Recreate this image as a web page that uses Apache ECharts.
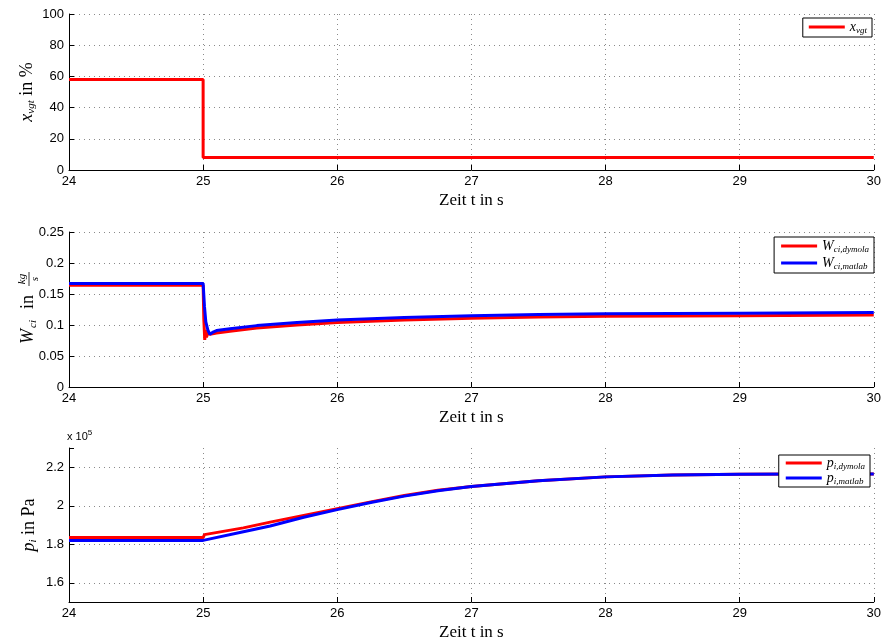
<!DOCTYPE html>
<html>
<head>
<meta charset="utf-8">
<script src="https://cdn.jsdelivr.net/npm/echarts@6/dist/echarts.min.js"></script>
<style>
  html, body { margin: 0; padding: 0; background: #fff; }
</style>
</head>
<body>
<div id="main" style="width:884px;height:642px;"></div>
<script>
// x axis ticks (time in s)
const timeTicks = [24, 25, 26, 27, 28, 29, 30];

// plot 1: x_vgt in %
const tVgt = [24, 25, 25, 30];
const xVgt = [58, 58, 8, 8];

// plot 2: W_ci in kg/s
const tWd = [24, 25.0, 25.005, 25.012, 25.018, 25.025, 25.035, 25.05, 25.1, 25.2, 25.4, 25.7, 26, 26.5, 27, 27.5, 28, 29, 30];
const wDymola = [0.164, 0.164, 0.11, 0.076, 0.092, 0.08, 0.088, 0.085, 0.087, 0.090, 0.095, 0.100, 0.104, 0.108, 0.111, 0.113, 0.114, 0.115, 0.116];
const tWm = [24, 25.0, 25.01, 25.02, 25.035, 25.05, 25.07, 25.1, 25.2, 25.4, 25.7, 26, 26.5, 27, 27.5, 28, 29, 30];
const wMatlab = [0.167, 0.167, 0.13, 0.105, 0.092, 0.085, 0.088, 0.091, 0.094, 0.099, 0.104, 0.108, 0.112, 0.115, 0.117, 0.118, 0.119, 0.120];

// plot 3: p_i in Pa
const tP = [24, 25.0, 25.01, 25.3, 25.5, 25.75, 26, 26.25, 26.5, 26.75, 27, 27.5, 28, 28.5, 29, 29.5, 30];
const pDymola = [183500, 183500, 185000, 188500, 191500, 195000, 198500, 202000, 205300, 208000, 210000, 213000, 215000, 216000, 216400, 216500, 216500];
const pMatlab = [182000, 182000, 183000, 186500, 189500, 194000, 198000, 201700, 205000, 207800, 210000, 213000, 215000, 216000, 216400, 216500, 216500];

function pairs(t, v) {
  return t.map(function (x, i) { return [x, v[i]]; });
}

var chart = echarts.init(document.getElementById("main"));

var serif = "Liberation Serif";
var sans = "Liberation Sans";
var gridLine = { show: true, showMinLine: false, lineStyle: { color: "#8a8a8a", type: [1, 4], width: 1 } };

var legendNames = {
  "x_vgt": "{m|x}{s|vgt}",
  "W_ci,dymola": "{m|W}{s|ci,dymola}",
  "W_ci,matlab": "{m|W}{s|ci,matlab}",
  "p_i,dymola": "{m|p}{s|i,dymola}",
  "p_i,matlab": "{m|p}{s|i,matlab}",
};
var legendRich = {
  m: { fontFamily: serif, fontStyle: "italic", fontSize: 14, color: "#000" },
  s: { fontFamily: serif, fontStyle: "italic", fontSize: 9, color: "#000", padding: [7, 0, 0, 0] },
};
var nameRich = {
  m: { fontFamily: serif, fontStyle: "italic", fontSize: 18, color: "#000" },
  s: { fontFamily: serif, fontStyle: "italic", fontSize: 11, color: "#000", padding: [8, 0, 0, 0] },
  r: { fontFamily: serif, fontSize: 18, color: "#000" },
};

function xAxis(gi) {
  return {
    type: "value", gridIndex: gi, min: 24, max: 30, interval: 1,
    name: "Zeit t in s", nameLocation: "middle", nameGap: 22,
    nameTextStyle: { fontFamily: serif, fontSize: 17, color: "#000" },
    axisLine: { onZero: false, lineStyle: { color: "#000", width: 1 } },
    axisTick: { inside: true, length: 5, lineStyle: { color: "#000" } },
    axisLabel: { color: "#000", fontFamily: sans, fontSize: 13, margin: 5 },
    splitLine: gridLine,
  };
}
function yBase(gi) {
  return {
    type: "value", gridIndex: gi,
    axisLine: { show: true, onZero: false, lineStyle: { color: "#000", width: 1 } },
    axisTick: { show: true, inside: true, length: 5, lineStyle: { color: "#000" } },
    axisLabel: { color: "#000", fontFamily: sans, fontSize: 13, margin: 5 },
    splitLine: gridLine,
  };
}
function legend(top, right, gap, data, pad) {
  return {
    top: top, right: right, orient: "vertical", data: data,
    icon: "rect", itemWidth: 36, itemHeight: 3, itemGap: gap, padding: pad,
    borderColor: "#000", borderWidth: 1, backgroundColor: "#fff", borderRadius: 0,
    formatter: function (n) { return legendNames[n]; },
    textStyle: { rich: legendRich },
  };
}
function line(name, gi, data, color) {
  return {
    name: name, type: "line", xAxisIndex: gi, yAxisIndex: gi, data: data,
    showSymbol: false, symbol: "none", animation: false,
    lineStyle: { color: color, width: 3 }, itemStyle: { color: color },
  };
}

var y1 = yBase(0);
y1.min = 0; y1.max = 100; y1.interval = 20;
y1.name = "{m|x}{s|vgt}{r| in %}";
y1.nameLocation = "middle"; y1.nameGap = 32; y1.nameMoveOverlap = false;
y1.nameTextStyle = { rich: nameRich };

var y2 = yBase(1);
y2.min = 0; y2.max = 0.25; y2.interval = 0.05;

var y3 = yBase(2);
y3.min = 150000; y3.max = 230000; y3.splitNumber = 4;
y3.splitLine = { show: true, showMinLine: false, showMaxLine: false, lineStyle: gridLine.lineStyle };
y3.axisLabel.formatter = function (v) {
  return v % 20000 === 0 ? String(Math.round(v / 1000) / 100) : "";
};
y3.name = "{m|p}{s|i}{r| in Pa}";
y3.nameLocation = "middle"; y3.nameGap = 30; y3.nameMoveOverlap = false;
y3.nameTextStyle = { rich: nameRich };

chart.setOption({
  backgroundColor: "#fff",
  animation: false,
  grid: [
    { left: 69, right: 7, top: 14, height: 156 },
    { left: 69, right: 7, top: 232, height: 155 },
    { left: 69, right: 7, top: 448, height: 155 },
  ],
  xAxis: [xAxis(0), xAxis(1), xAxis(2)],
  yAxis: [y1, y2, y3],
  legend: [
    legend(18, 12, 4, ["x_vgt"], [2, 5, 2, 6]),
    legend(237, 10, 2, ["W_ci,dymola", "W_ci,matlab"], [2, 5, 2, 7]),
    legend(455, 14, 0, ["p_i,dymola", "p_i,matlab"], [1, 5, 1, 7]),
  ],
  graphic: [
    {
      type: "text", left: 67, top: 429,
      style: {
        text: "{a|x 10}{b|5}",
        rich: {
          a: { fontFamily: sans, fontSize: 11, fill: "#000", color: "#000" },
          b: { fontFamily: sans, fontSize: 8, fill: "#000", color: "#000", padding: [0, 0, 7, 0] },
        },
      },
    },
    {
      type: "group", x: 28, y: 303, rotation: Math.PI / 2,
      children: [
        { type: "text", x: -41, y: 0, style: { text: "W", fontFamily: serif, fontStyle: "italic", fontSize: 18, fill: "#000", align: "left", verticalAlign: "middle" } },
        { type: "text", x: -25, y: 5, style: { text: "ci", fontFamily: serif, fontStyle: "italic", fontSize: 11, fill: "#000", align: "left", verticalAlign: "middle" } },
        { type: "text", x: -6, y: 0, style: { text: "in", fontFamily: serif, fontSize: 18, fill: "#000", align: "left", verticalAlign: "middle" } },
        { type: "text", x: 24, y: -6, style: { text: "kg", fontFamily: serif, fontStyle: "italic", fontSize: 11, fill: "#000", align: "center", verticalAlign: "middle" } },
        { type: "line", shape: { x1: 17, y1: 1, x2: 31, y2: 1 }, style: { stroke: "#000", lineWidth: 0.8 } },
        { type: "text", x: 24, y: 7, style: { text: "s", fontFamily: serif, fontStyle: "italic", fontSize: 11, fill: "#000", align: "center", verticalAlign: "middle" } },
      ],
    },
  ],
  series: [
    line("x_vgt", 0, pairs(tVgt, xVgt), "#ff0000"),
    line("W_ci,dymola", 1, pairs(tWd, wDymola), "#ff0000"),
    line("W_ci,matlab", 1, pairs(tWm, wMatlab), "#0000ff"),
    line("p_i,dymola", 2, pairs(tP, pDymola), "#ff0000"),
    line("p_i,matlab", 2, pairs(tP, pMatlab), "#0000ff"),
  ],
});
</script>
</body>
</html>
